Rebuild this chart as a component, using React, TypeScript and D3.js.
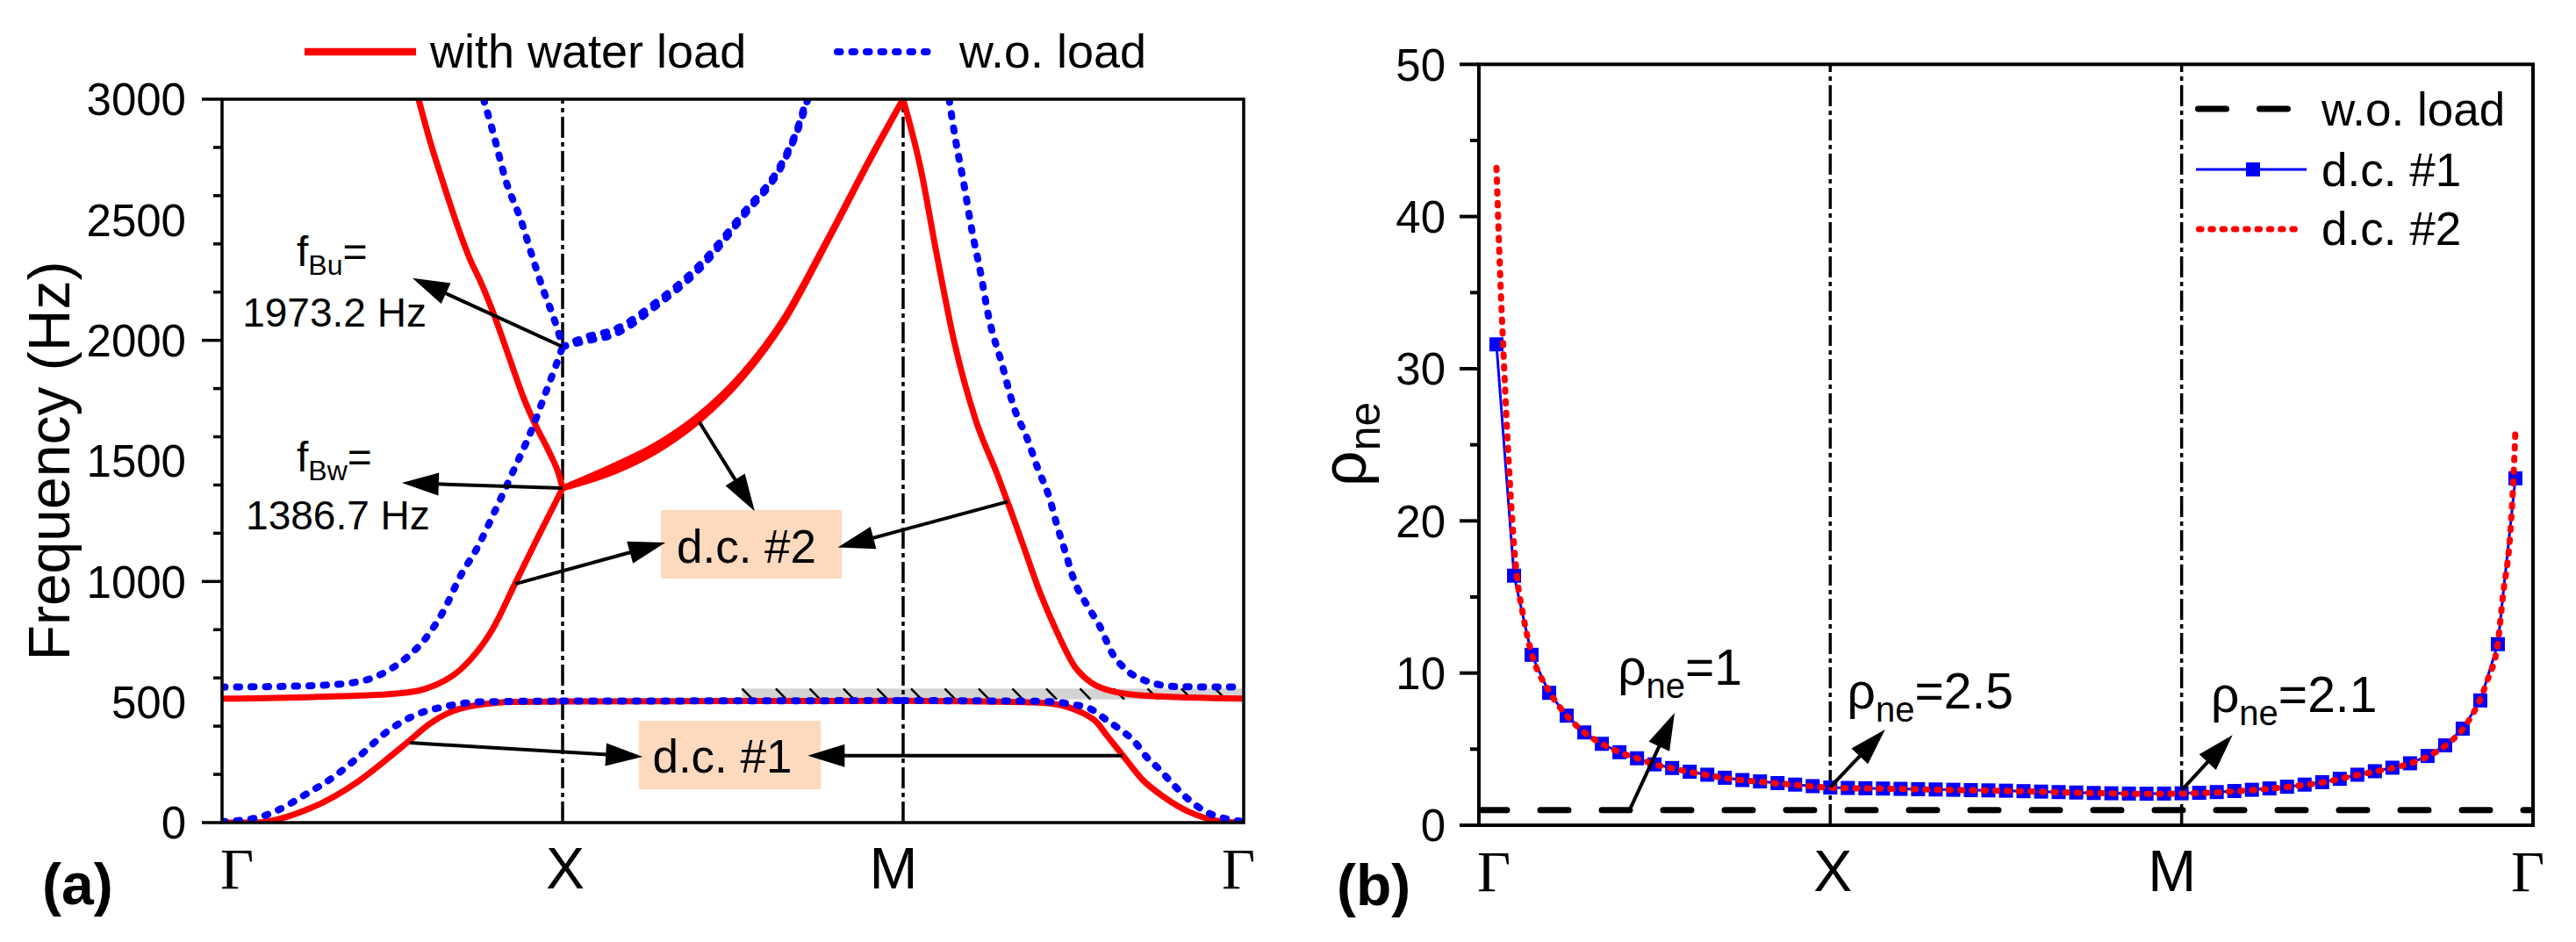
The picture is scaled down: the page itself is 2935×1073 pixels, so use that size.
import React from "react";
import * as d3 from "d3";

type P = [number, number];

// path coordinate: 0 = Γ, 1 = X, 2 = M, 3 = Γ
const pathTicks = [0, 1, 2, 3];
const pathLabels = ["Γ", "X", "M", "Γ"];
const freqTicks = [0, 500, 1000, 1500, 2000, 2500, 3000];
const rhoTicks = [0, 10, 20, 30, 40, 50];

// (a) with water load (red)
const water1: P[] = [
  [0, 0], [0.097, 0], [0.255, 57], [0.4, 171], [0.492, 272], [0.551, 341], [0.61, 410],
  [0.663, 454], [0.742, 486], [0.86, 501], [1, 502], [1.5, 504], [2, 505], [2.39, 498],
  [2.46, 488], [2.5025, 470], [2.54, 445], [2.565, 421], [2.6, 358], [2.65, 270], [2.7, 182],
  [2.765, 107], [2.84, 44], [2.93, 6], [3, 0],
];
const water2: P[] = [
  [0, 514], [0.268, 521], [0.505, 534], [0.597, 555], [0.702, 637], [0.794, 801], [0.86, 990],
  [0.926, 1179], [1, 1386.7], [1.152, 1456], [1.277, 1543], [1.402, 1669], [1.527, 1844],
  [1.652, 2083], [1.777, 2408], [1.902, 2747], [2, 3000], [2.052, 2709], [2.1, 2346],
  [2.15, 1994], [2.213, 1670], [2.2775, 1440], [2.315, 1298], [2.3525, 1150], [2.4025, 952],
  [2.4525, 788], [2.5025, 650], [2.5525, 580], [2.6025, 549], [2.715, 526], [3, 514],
];
const water3: P[] = [
  [0.577, 3000], [0.61, 2830], [0.65, 2650], [0.69, 2480], [0.73, 2330], [0.757, 2250],
  [0.8, 2101], [0.843, 1930], [0.886, 1760], [0.92, 1650], [0.963, 1530], [0.99, 1440],
  [1, 1386.7], [1.152, 1480], [1.277, 1568], [1.402, 1690], [1.527, 1860], [1.652, 2095],
  [1.777, 2416], [1.902, 2752], [2, 3000],
];

// (a) w.o. load (blue)
const free1: P[] = [
  [0, 4], [0.1, 19], [0.163, 51], [0.242, 114], [0.334, 196], [0.4, 272], [0.492, 385],
  [0.571, 448], [0.65, 480], [0.768, 501], [1, 504], [1.5, 505], [2, 506], [2.4, 503],
  [2.5025, 489], [2.5525, 470], [2.59, 433], [2.64, 383], [2.6775, 339], [2.715, 272],
  [2.7525, 221], [2.79, 163], [2.84, 94], [2.89, 44], [2.94, 19], [3, 4],
];
const free2: P[] = [
  [0, 562], [0.268, 568], [0.4, 584], [0.479, 624], [0.545, 688], [0.597, 763], [0.65, 877],
  [0.702, 1028], [0.748, 1136], [0.8, 1288], [0.851, 1445], [0.912, 1639], [0.954, 1797],
  [0.98, 1894], [1, 1973.2], [1.06, 1995], [1.152, 2025], [1.277, 2145], [1.402, 2296],
  [1.527, 2509], [1.652, 2747], [1.69, 2870], [1.72, 3000],
];
const free3: P[] = [
  [0.768, 3000], [0.794, 2872], [0.834, 2659], [0.877, 2501], [0.912, 2343], [0.946, 2198],
  [0.972, 2101], [0.989, 2028], [1, 1973.2], [1.06, 2010], [1.152, 2045], [1.277, 2160],
  [1.402, 2312], [1.527, 2522], [1.652, 2758], [1.69, 2880], [1.716, 3000],
];
const free4: P[] = [
  [2.135, 3000], [2.152, 2847], [2.177, 2659], [2.2015, 2459], [2.227, 2283], [2.2515, 2095],
  [2.289, 1907], [2.326, 1719], [2.364, 1594], [2.395, 1470], [2.4275, 1356], [2.4525, 1230],
  [2.4775, 1116], [2.5025, 1003], [2.54, 902], [2.5775, 814], [2.615, 700], [2.6525, 637],
  [2.715, 587], [2.8025, 564], [3, 562],
];

// hatched gap strip
const gapT = [1.527, 3];
const gapF = [511, 556];

// (b) normalized effective density
const rhoFree: P[] = [[0, 1], [3, 1]];
const dc1: P[] = [
  [0.05, 31.6], [0.1, 16.4], [0.15, 11.2], [0.2, 8.7], [0.25, 7.2], [0.3, 6.1], [0.35, 5.35],
  [0.4, 4.8], [0.45, 4.4], [0.5, 4.0], [0.55, 3.76], [0.6, 3.52], [0.65, 3.32], [0.7, 3.12],
  [0.75, 2.97], [0.8, 2.88], [0.85, 2.77], [0.9, 2.67], [0.95, 2.57], [1.0, 2.48], [1.05, 2.45],
  [1.1, 2.43], [1.15, 2.41], [1.2, 2.39], [1.25, 2.37], [1.3, 2.35], [1.35, 2.33], [1.4, 2.31],
  [1.45, 2.29], [1.5, 2.27], [1.55, 2.24], [1.6, 2.21], [1.65, 2.18], [1.7, 2.15], [1.75, 2.12],
  [1.8, 2.1], [1.85, 2.08], [1.9, 2.07], [1.95, 2.08], [2.0, 2.1], [2.05, 2.13], [2.1, 2.18],
  [2.15, 2.25], [2.2, 2.33], [2.25, 2.42], [2.3, 2.53], [2.35, 2.67], [2.4, 2.83], [2.45, 3.05],
  [2.5, 3.32], [2.55, 3.55], [2.6, 3.78], [2.65, 4.07], [2.7, 4.55], [2.75, 5.25], [2.8, 6.35],
  [2.85, 8.2], [2.9, 11.9], [2.95, 22.8],
];
const dc2: P[] = [
  [0.05, 43.2], [0.06, 36.5], [0.07, 31.0], [0.08, 26.0], [0.09, 21.8], [0.1, 18.4], [0.11, 16.0],
  [0.125, 13.9], [0.14, 12.2], [0.15, 11.3], [0.2, 8.8], [0.25, 7.2], [0.3, 6.1], [0.35, 5.35],
  [0.4, 4.8], [0.45, 4.4], [0.5, 4.0], [0.55, 3.75], [0.6, 3.5], [0.65, 3.3], [0.7, 3.1],
  [0.75, 2.96], [0.8, 2.86], [0.85, 2.75], [0.9, 2.65], [0.95, 2.55], [1.0, 2.46], [1.1, 2.42],
  [1.2, 2.38], [1.3, 2.34], [1.4, 2.3], [1.5, 2.26], [1.6, 2.2], [1.7, 2.14], [1.8, 2.09],
  [1.9, 2.06], [2.0, 2.08], [2.1, 2.16], [2.2, 2.31], [2.3, 2.51], [2.4, 2.81], [2.5, 3.3],
  [2.55, 3.53], [2.6, 3.76], [2.65, 4.05], [2.7, 4.52], [2.75, 5.22], [2.8, 6.32], [2.85, 8.3],
  [2.87, 9.5], [2.9, 12.0], [2.915, 15.2], [2.935, 19.1], [2.945, 23.1], [2.95, 26.0],
];

// annotations (data coordinates)
const freqArrows: { from: P; to: P }[] = [
  { from: [1, 1973.2], to: [0.559, 2258] },
  { from: [1, 1386.7], to: [0.528, 1409] },
  { from: [0.861, 990], to: [1.302, 1161] },
  { from: [1.402, 1660], to: [1.564, 1292] },
  { from: [2.307, 1331], to: [1.808, 1141] },
  { from: [0.552, 331], to: [1.235, 273] },
  { from: [2.644, 278], to: [1.72, 278] },
];
const dcBoxes = [
  { label: "d.c. #2", t: [1.289, 1.82], f: [1012, 1296], at: [1.54, 1078] },
  { label: "d.c. #1", t: [1.224, 1.758], f: [138, 422], at: [1.469, 209] },
];
const rhoArrows: { from: P; to: P }[] = [
  { from: [0.429, 1.0], to: [0.557, 7.38] },
  { from: [1.0, 2.5], to: [1.156, 6.29] },
  { from: [2.0, 2.3], to: [2.145, 5.93] },
];
const rhoNotes = [
  { value: "1", at: [0.395, 9.23] },
  { value: "2.5", at: [1.048, 7.67] },
  { value: "2.1", at: [2.083, 7.47] },
];

const SANS = "'Liberation Sans', Arial, sans-serif";
const SERIF = "'Liberation Serif', 'Times New Roman', serif";
const RED = "#ff0000";
const BLUE = "#0000ff";
const PEACH = "#fdd9bd";
const labelNudge = [17, 3, -11, -6];

const ax = d3.scaleLinear().domain([0, 3]).range([253, 1417]);
const ay = d3.scaleLinear().domain([0, 3000]).range([937, 113]);
const bx = d3.scaleLinear().domain([0, 3]).range([1685, 2886]);
const by = d3.scaleLinear().domain([0, 50]).range([940, 73.3]);

// split a band into its Γ-X, X-M and M-Γ pieces so corners at X and M stay sharp
const segments = (pts: P[]) =>
  [0, 1, 2]
    .map((k) => pts.filter((p) => p[0] >= k - 1e-6 && p[0] <= k + 1 + 1e-6))
    .filter((s) => s.length > 1);

const lineA = d3
  .line<P>()
  .x((d) => ax(d[0]))
  .y((d) => ay(d[1]))
  .curve(d3.curveMonotoneX);
const smoothB = d3
  .line<P>()
  .x((d) => bx(d[0]))
  .y((d) => by(d[1]))
  .curve(d3.curveMonotoneX);
const straightB = d3
  .line<P>()
  .x((d) => bx(d[0]))
  .y((d) => by(d[1]));

const Arrow = ({ x1, y1, x2, y2 }: { x1: number; y1: number; x2: number; y2: number }) => {
  const len = Math.hypot(x2 - x1, y2 - y1);
  const ux = (x2 - x1) / len;
  const uy = (y2 - y1) / len;
  const L = 42;
  const hw = 13;
  const bx0 = x2 - ux * L;
  const by0 = y2 - uy * L;
  const pts = [
    [x2, y2],
    [bx0 - uy * hw, by0 + ux * hw],
    [bx0 + uy * hw, by0 - ux * hw],
  ];
  return (
    <g>
      <line x1={x1} y1={y1} x2={bx0 + ux * 2} y2={by0 + uy * 2} stroke="#000" strokeWidth={4} />
      <polygon points={pts.map((p) => p.join(",")).join(" ")} fill="#000" />
    </g>
  );
};

const App: React.FC = () => {
  const aMinor = ay.ticks(12);
  const bMinor = by.ticks(10);
  const hatchX = d3.range(ax(gapT[0]), ax(gapT[1]) - 4, 38.5);

  return (
    <svg
      width={2935}
      height={1073}
      style={{ position: "absolute", left: 0, top: 0, background: "#fff" }}
      fontFamily={SANS}
    >
      <defs>
        <clipPath id="clipA">
          <rect x={253} y={113} width={1417 - 253} height={937 - 113} />
        </clipPath>
        <clipPath id="clipB">
          <rect x={1685} y={73.3} width={2886 - 1685} height={940 - 73.3} />
        </clipPath>
      </defs>

      {/* ---------------- panel (a) ---------------- */}
      <g>
        {/* legend */}
        <line x1={347} x2={474} y1={59} y2={59} stroke={RED} strokeWidth={8.5} />
        <text x={490} y={77} fontSize={54}>with water load</text>
        <line
          x1={954} x2={1066} y1={59} y2={59}
          stroke={BLUE} strokeWidth={8} strokeDasharray="3.5 13" strokeLinecap="round"
        />
        <text x={1093} y={77} fontSize={54}>w.o. load</text>

        {/* hatched gap */}
        <rect
          x={ax(gapT[0])}
          y={ay(gapF[1])}
          width={ax(gapT[1]) - ax(gapT[0])}
          height={ay(gapF[0]) - ay(gapF[1])}
          fill="#d3d3d3"
        />
        <g clipPath="url(#clipA)">
          {hatchX.map((x, i) => (
            <line
              key={i}
              x1={x} y1={ay(gapF[1])}
              x2={x + 12} y2={ay(gapF[0])}
              stroke="#000" strokeWidth={2.5}
            />
          ))}
        </g>

        {/* symmetry lines */}
        {[1, 2].map((t) => (
          <line
            key={t}
            x1={ax(t)} x2={ax(t)} y1={ay(0)} y2={ay(3000)}
            stroke="#000" strokeWidth={3.5} strokeDasharray="24 5 5 5"
          />
        ))}

        <g clipPath="url(#clipA)" fill="none">
          {[water1, water2, water3].flatMap((b, i) =>
            segments(b).map((s, j) => (
              <path key={`w${i}${j}`} d={lineA(s) || ""} stroke={RED} strokeWidth={7} strokeLinejoin="round" />
            ))
          )}
          {[free1, free2, free3, free4].flatMap((b, i) =>
            segments(b).map((s, j) => (
              <path
                key={`f${i}${j}`}
                d={lineA(s) || ""}
                stroke={BLUE}
                strokeWidth={8}
                strokeDasharray="3.5 13"
                strokeLinecap="round"
              />
            ))
          )}
        </g>

        {/* frame */}
        <rect x={253} y={113} width={1417 - 253} height={937 - 113} fill="none" stroke="#000" strokeWidth={3.5} />

        {/* y ticks */}
        {aMinor.map((v) => (
          <line
            key={v}
            x1={253} x2={253 - (v % 500 === 0 ? 23 : 10)}
            y1={ay(v)} y2={ay(v)}
            stroke="#000" strokeWidth={3.5}
          />
        ))}
        {freqTicks.map((v) => (
          <text key={v} x={212} y={ay(v)} dy="0.36em" textAnchor="end" fontSize={51}>
            {v}
          </text>
        ))}
        <text transform="translate(79,525) rotate(-90)" textAnchor="middle" fontSize={66}>
          Frequency (Hz)
        </text>

        {/* x labels */}
        {pathTicks.map((t, i) => (
          <text
            key={t}
            x={ax(t) + labelNudge[i]}
            y={1012}
            textAnchor="middle"
            fontSize={66}
            fontFamily={pathLabels[i] === "Γ" ? SERIF : SANS}
          >
            {pathLabels[i]}
          </text>
        ))}
        <text x={48} y={1030} fontSize={66} fontWeight="bold">(a)</text>

        {/* annotations */}
        {dcBoxes.map((b) => (
          <g key={b.label}>
            <rect
              x={ax(b.t[0])}
              y={ay(b.f[1])}
              width={ax(b.t[1]) - ax(b.t[0])}
              height={ay(b.f[0]) - ay(b.f[1])}
              fill={PEACH}
            />
            <text x={ax(b.at[0])} y={ay(b.at[1])} textAnchor="middle" fontSize={53}>
              {b.label}
            </text>
          </g>
        ))}
        {freqArrows.map((a, i) => (
          <Arrow key={i} x1={ax(a.from[0])} y1={ay(a.from[1])} x2={ax(a.to[0])} y2={ay(a.to[1])} />
        ))}
        <text x={ax(0.219)} y={ay(2308)} fontSize={48}>
          f<tspan fontSize={32} dy={10}>Bu</tspan>
          <tspan dy={-10}>=</tspan>
        </text>
        <text x={ax(0.33)} y={ay(2057)} textAnchor="middle" fontSize={46}>1973.2 Hz</text>
        <text x={ax(0.219)} y={ay(1457)} fontSize={48}>
          f<tspan fontSize={32} dy={10}>Bw</tspan>
          <tspan dy={-10}>=</tspan>
        </text>
        <text x={ax(0.34)} y={ay(1215)} textAnchor="middle" fontSize={46}>1386.7 Hz</text>
      </g>

      {/* ---------------- panel (b) ---------------- */}
      <g>
        {[1, 2].map((t) => (
          <line
            key={t}
            x1={bx(t)} x2={bx(t)} y1={by(0)} y2={by(50)}
            stroke="#000" strokeWidth={3.5} strokeDasharray="24 5 5 5"
          />
        ))}
        <g clipPath="url(#clipB)" fill="none">
          <path
            d={straightB(rhoFree) || ""}
            stroke="#000" strokeWidth={7} strokeDasharray="32 38" strokeLinecap="round"
          />
          <path d={straightB(dc1) || ""} stroke={BLUE} strokeWidth={3} />
          {dc1.map((d, i) => (
            <rect key={i} x={bx(d[0]) - 8} y={by(d[1]) - 8} width={16} height={16} fill={BLUE} />
          ))}
          <path
            d={smoothB(dc2) || ""}
            stroke={RED} strokeWidth={7} strokeDasharray="2.5 10.8" strokeLinecap="round"
          />
        </g>

        <rect x={1685} y={73.3} width={2886 - 1685} height={940 - 73.3} fill="none" stroke="#000" strokeWidth={4} />

        {bMinor.map((v) => (
          <line
            key={v}
            x1={1685} x2={1685 - (v % 10 === 0 ? 22 : 10)}
            y1={by(v)} y2={by(v)}
            stroke="#000" strokeWidth={4}
          />
        ))}
        {rhoTicks.map((v) => (
          <text key={v} x={1647} y={by(v)} dy="0.36em" textAnchor="end" fontSize={51}>
            {v}
          </text>
        ))}
        <text transform="translate(1556,506) rotate(-90)" textAnchor="middle" fontSize={72}>
          ρ<tspan fontSize={50} dy={16}>ne</tspan>
        </text>

        {pathTicks.map((t, i) => (
          <text
            key={t}
            x={bx(t) + labelNudge[i]}
            y={1015}
            textAnchor="middle"
            fontSize={66}
            fontFamily={pathLabels[i] === "Γ" ? SERIF : SANS}
          >
            {pathLabels[i]}
          </text>
        ))}
        <text x={1523} y={1031} fontSize={66} fontWeight="bold">(b)</text>

        {rhoArrows.map((a, i) => (
          <Arrow key={i} x1={bx(a.from[0])} y1={by(a.from[1])} x2={bx(a.to[0])} y2={by(a.to[1])} />
        ))}
        {rhoNotes.map((n) => (
          <text key={n.value} x={bx(n.at[0])} y={by(n.at[1])} fontSize={57}>
            ρ<tspan fontSize={40} dy={15}>ne</tspan>
            <tspan dy={-15}>={n.value}</tspan>
          </text>
        ))}

        {/* legend */}
        <line
          x1={2504.5} x2={2608.5} y1={124} y2={124}
          stroke="#000" strokeWidth={7} strokeDasharray="32 38" strokeLinecap="round"
        />
        <text x={2645} y={143} fontSize={53}>w.o. load</text>
        <line x1={2502} x2={2628} y1={193} y2={193} stroke={BLUE} strokeWidth={3} />
        <rect x={2567 - 8} y={193 - 8} width={16} height={16} fill={BLUE} />
        <text x={2645} y={212} fontSize={53}>d.c. #1</text>
        <line
          x1={2505.5} x2={2619} y1={261} y2={261}
          stroke={RED} strokeWidth={7} strokeDasharray="2.5 10.8" strokeLinecap="round"
        />
        <text x={2645} y={279} fontSize={53}>d.c. #2</text>
      </g>
    </svg>
  );
};

export default App;
